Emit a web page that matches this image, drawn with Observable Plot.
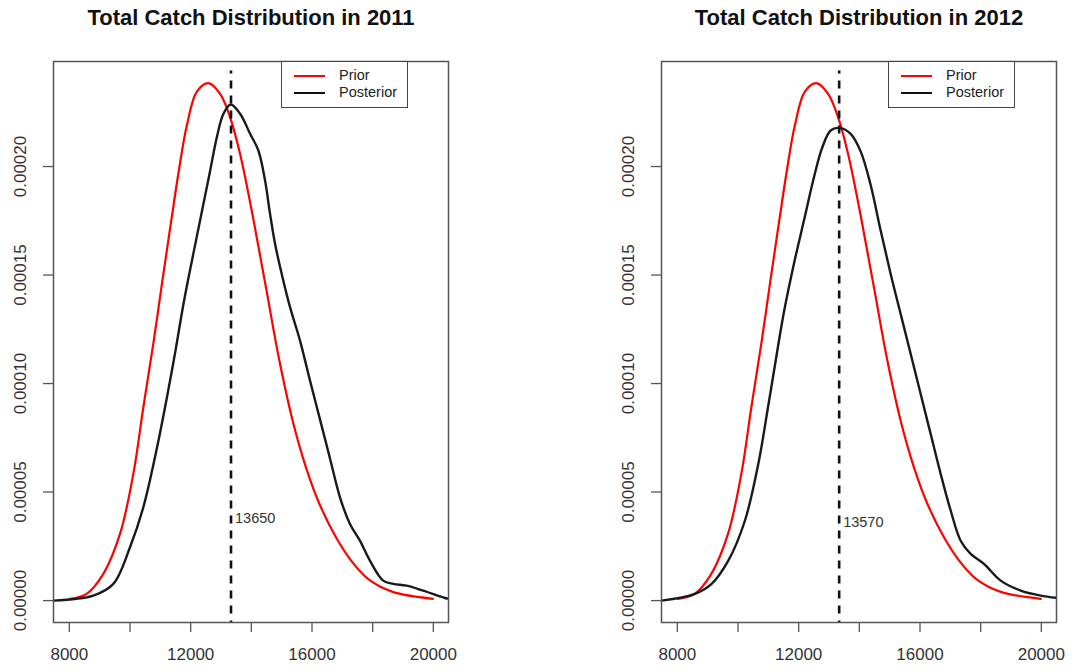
<!DOCTYPE html>
<html>
<head>
<meta charset="utf-8">
<script src="https://cdn.jsdelivr.net/npm/d3@7"></script>
<script src="https://cdn.jsdelivr.net/npm/@observablehq/plot@0.6"></script>
<style>
  body { margin: 0; background: #fff; font-family: "Liberation Sans", Arial, sans-serif; }
  #chart { position: relative; width: 1075px; height: 670px; overflow: hidden; }
  .panel { position: absolute; top: 0; }
  .legend { position: absolute; top: 61px; width: 125px; height: 45px; border: 1.5px solid #444; background: #fff; font-size: 14.5px; color: #222; }
  .legend .sw { position: absolute; left: 12px; width: 31px; height: 0; border-top: 2.2px solid; }
  .legend .lb { position: absolute; left: 57px; line-height: 16px; }
</style>
</head>
<body>
<div id="chart"></div>
<script>
// prior (same in both years)
const priorCatch   = [8020, 8570, 9120, 9670, 10110, 10440, 10775, 11105, 11381, 11598, 11875, 12204, 12586, 12971, 13300, 13630, 14050, 14482, 14924, 15362, 15801, 16243, 16790, 17341, 17891, 18660, 19984];
const priorDensity = [0.0000008, 0.0000031, 0.0000123, 0.0000307, 0.0000584, 0.0000891, 0.0001190, 0.0001510, 0.0001770, 0.0001970, 0.0002190, 0.0002345, 0.0002384, 0.0002335, 0.0002227, 0.0002058, 0.0001770, 0.0001443, 0.0001106, 0.0000829, 0.0000614, 0.0000446, 0.0000292, 0.0000175, 0.0000095, 0.0000040, 0.0000008];

// posterior 2011
const post2011Catch   = [7480, 8790, 9450, 10000, 10440, 10870, 11260, 11510, 11763, 12092, 12421, 12642, 12863, 13080, 13323, 13630, 13959, 14232, 14453, 14617, 14782, 15002, 15276, 15605, 15934, 16263, 16593, 16922, 17251, 17580, 17909, 18347, 18677, 19118, 19664, 20379, 20490];
const post2011Density = [0, 0.0000023, 0.0000077, 0.0000246, 0.0000430, 0.0000691, 0.0000968, 0.0001160, 0.0001367, 0.0001601, 0.0001828, 0.0001981, 0.0002135, 0.0002243, 0.0002286, 0.0002243, 0.0002151, 0.0002074, 0.0001935, 0.0001782, 0.0001644, 0.0001505, 0.0001352, 0.0001198, 0.0001014, 0.0000835, 0.0000655, 0.0000476, 0.0000353, 0.0000276, 0.0000184, 0.0000092, 0.0000077, 0.0000069, 0.0000046, 0.0000012, 0.0000009];

// posterior 2012
const post2012Catch   = [7482, 8580, 9130, 9680, 10230, 10670, 11000, 11330, 11515, 11844, 12174, 12504, 12781, 13054, 13328, 13714, 14043, 14373, 14703, 15033, 15362, 15692, 16022, 16351, 16681, 17011, 17341, 17670, 18109, 18660, 19319, 19978, 20529];
const post2012Density = [0, 0.0000031, 0.0000077, 0.0000184, 0.0000369, 0.0000630, 0.0000900, 0.0001180, 0.0001330, 0.0001552, 0.0001751, 0.0001951, 0.0002089, 0.0002166, 0.0002178, 0.0002151, 0.0002070, 0.0001915, 0.0001705, 0.0001505, 0.0001321, 0.0001137, 0.0000952, 0.0000768, 0.0000584, 0.0000415, 0.0000276, 0.0000215, 0.0000169, 0.0000092, 0.0000046, 0.0000023, 0.0000012];

const years        = [2011, 2012];
const markerX      = [13330, 13335];        // dashed line position
const markerLabel  = ["13650", "13570"];
const markerLabelY = [0.0000379, 0.0000361];

const xTicks      = [8000, 10000, 12000, 14000, 16000, 18000, 20000];
const xTickLabels = [8000, 12000, 16000, 20000];
const yTicks      = [0, 0.00005, 0.0001, 0.00015, 0.0002];
const yTickLabels = ["0.00000", "0.00005", "0.00010", "0.00015", "0.00020"];

const FONT = '"Liberation Sans", Arial, sans-serif';

function toRows(xs, ys) {
    return xs.map((x, i) => ({ catch: x, density: ys[i] }));
}

const posteriors = [toRows(post2011Catch, post2011Density), toRows(post2012Catch, post2012Density)];
const prior = toRows(priorCatch, priorDensity);

function drawPanel(i, left, width, marginRight) {
    let chart = Plot.plot({
        width: width,
        height: 670,
        marginLeft: 53,
        marginRight: marginRight,
        marginTop: 61,
        marginBottom: 48,
        style: { fontFamily: FONT, background: "transparent", overflow: "visible" },
        x: { domain: [7478, 20500] },
        y: { domain: [-0.0000101, 0.0002484] },
        marks: [
            Plot.axisX({ ticks: xTicks, tickSize: 10, tickFormat: () => "", label: null, stroke: "#555", strokeWidth: 1.3 }),
            Plot.axisY({ ticks: yTicks, tickSize: 10, tickFormat: () => "", label: null, stroke: "#555", strokeWidth: 1.3 }),
            Plot.text(xTickLabels, { x: d => d, frameAnchor: "bottom", dy: 32, text: d => String(d), fontSize: 17, fill: "#333", lineAnchor: "middle" }),
            Plot.text(yTicks, { y: d => d, frameAnchor: "left", dx: -33, text: (d, j) => yTickLabels[j], rotate: -90, fontSize: 17, fill: "#333", textAnchor: "middle", lineAnchor: "middle" }),
            Plot.line(prior, { x: "catch", y: "density", stroke: "#ff0000", strokeWidth: 2.2, curve: "catmull-rom", clip: true }),
            Plot.line(posteriors[i], { x: "catch", y: "density", stroke: "#1a1a1a", strokeWidth: 2.4, curve: "catmull-rom", clip: true }),
            Plot.ruleX([markerX[i]], { y1: -0.00002, y2: 0.000244, stroke: "#111", strokeWidth: 2.6, strokeDasharray: "8,7", clip: true }),
            Plot.text([markerLabel[i]], { x: markerX[i], y: markerLabelY[i], dx: 4, textAnchor: "start", fontSize: 14.5, fill: "#333" }),
            Plot.frame({ stroke: "#555", strokeWidth: 1.5 }),
            Plot.text([`Total Catch Distribution in ${years[i]}`], { frameAnchor: "top", dy: -44, fontSize: 22, fontWeight: "bold", fill: "#111", lineAnchor: "middle" })
        ]
    });
    chart.classList.add("panel");
    chart.style.left = left + "px";
    return chart;
}

function drawLegend(left) {
    let lg = document.createElement("div");
    lg.className = "legend";
    lg.style.left = left + "px";
    lg.innerHTML =
        '<div class="sw" style="top:13px;border-color:#ff0000"></div><div class="lb" style="top:5px">Prior</div>' +
        '<div class="sw" style="top:30px;border-color:#111"></div><div class="lb" style="top:22px">Posterior</div>';
    return lg;
}

let root = document.getElementById("chart");
root.append(drawPanel(0, 0, 460, 12));
root.append(drawPanel(1, 608, 467, 19));
root.append(drawLegend(281));
root.append(drawLegend(888));
</script>
</body>
</html>
